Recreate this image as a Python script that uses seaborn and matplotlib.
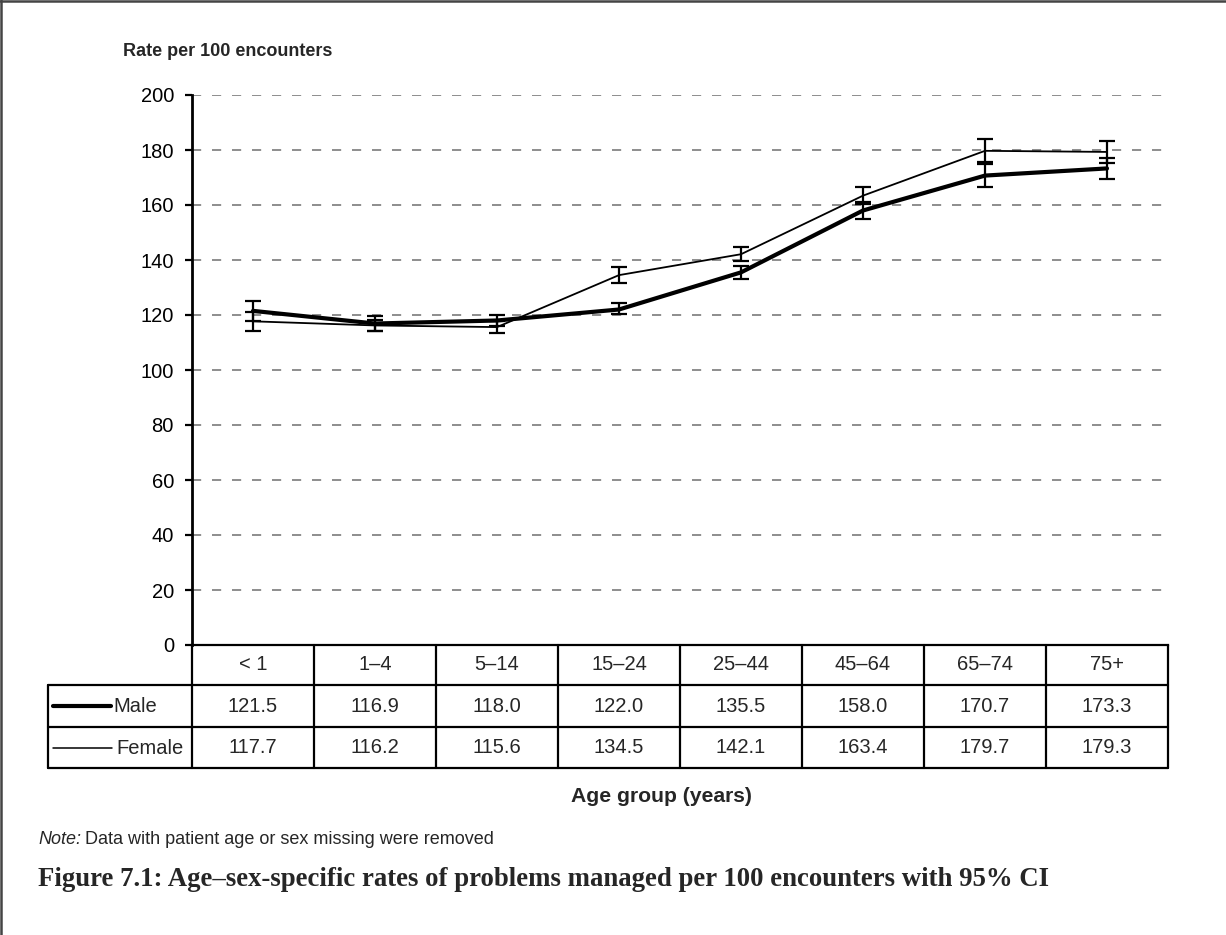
import matplotlib
matplotlib.use("Agg")
import matplotlib.pyplot as plt
import seaborn as sns
import numpy as np
import pandas as pd
from matplotlib.transforms import blended_transform_factory

# ---------------- data ----------------
age_groups = ["< 1", "1–4", "5–14", "15–24", "25–44", "45–64", "65–74", "75+"]
male = [121.5, 116.9, 118.0, 122.0, 135.5, 158.0, 170.7, 173.3]
female = [117.7, 116.2, 115.6, 134.5, 142.1, 163.4, 179.7, 179.3]
male_lo = [118.0, 114.3, 116.0, 120.2, 133.1, 155.0, 166.5, 169.4]
male_hi = [125.0, 119.5, 120.0, 124.4, 137.9, 161.0, 174.8, 177.2]
female_lo = [114.2, 114.1, 113.5, 131.8, 139.6, 160.3, 175.6, 175.3]
female_hi = [121.2, 118.3, 117.7, 137.3, 144.6, 166.5, 184.0, 183.2]
yticks = [0, 20, 40, 60, 80, 100, 120, 140, 160, 180, 200]

ylabel_text = "Rate per 100 encounters"
xlabel_text = "Age group (years)"
note_text = "Data with patient age or sex missing were removed"
caption_text = "Figure 7.1: Age–sex-specific rates of problems managed per 100 encounters with 95% CI"

# ---------------- style ----------------
sns.set_theme(style="white")
plt.rcParams['font.family'] = ['Liberation Sans', 'DejaVu Sans']

W, H = 1226, 935
fig = plt.figure(figsize=(W / 100, H / 100), dpi=100)
fig.patch.set_facecolor("white")

# overlay in pixel coordinates (for table, labels, border)
over = fig.add_axes([0, 0, 1, 1], zorder=0)
over.set_xlim(0, W)
over.set_ylim(H, 0)
over.set_axis_off()

ax = fig.add_axes([192 / W, 1 - 645 / H, (1168 - 192) / W, (645 - 95) / H], zorder=2)
ax.patch.set_alpha(0)

pos = np.arange(len(age_groups))
df = pd.DataFrame({
    "pos": np.concatenate([pos, pos]),
    "rate": male + female,
    "sex": ["Male"] * len(pos) + ["Female"] * len(pos),
})

sns.lineplot(data=df[df.sex == "Female"], x="pos", y="rate", color="black",
             linewidth=1.3, ax=ax, legend=False, zorder=3)
sns.lineplot(data=df[df.sex == "Male"], x="pos", y="rate", color="black",
             linewidth=3.0, ax=ax, legend=False, zorder=4)

m = np.array(male); f = np.array(female)
ax.errorbar(pos, m, yerr=[m - np.array(male_lo), np.array(male_hi) - m], fmt="none",
            ecolor="black", elinewidth=1.6, capsize=6, capthick=1.6, zorder=5)
ax.errorbar(pos, f, yerr=[f - np.array(female_lo), np.array(female_hi) - f], fmt="none",
            ecolor="black", elinewidth=1.6, capsize=6, capthick=1.6, zorder=5)

ax.set_xlim(-0.5, len(age_groups) - 0.5)
ax.set_ylim(0, 200)
ax.set_yticks(yticks)
ax.set_xticks([])
ax.set_xlabel("")
ax.set_ylabel("")
ax.yaxis.grid(True, color="#7a7a7a", linestyle=(0, (5.5, 6.5)), linewidth=1.2)
ax.set_axisbelow(True)
for s in ["top", "right"]:
    ax.spines[s].set_visible(False)
ax.spines["left"].set_color("black")
ax.spines["left"].set_linewidth(2)
ax.spines["bottom"].set_color("black")
ax.spines["bottom"].set_linewidth(1.6)
ax.tick_params(axis="y", left=True, direction="out", length=5, width=1.6,
               labelsize=14.5, pad=8, colors="black")

# ---------------- table below the axis ----------------
tr = blended_transform_factory(ax.transData, over.transData)
y_top, y_r1, y_r2, y_bot = 645, 685, 727, 768
x_left_px = 48
lw_t = 1.6
bounds = np.arange(len(age_groups) + 1) - 0.5
for b in bounds:
    over.plot([b, b], [y_top, y_bot], transform=tr, color="black", lw=lw_t, clip_on=False)
for yy in [y_r1, y_r2, y_bot]:
    over.plot([x_left_px, 1168], [yy, yy], color="black", lw=lw_t, clip_on=False)
over.plot([x_left_px, x_left_px], [y_r1, y_bot], color="black", lw=lw_t, clip_on=False)

fs_tab = 14.5
for i, lab in enumerate(age_groups):
    over.text(i, (y_top + y_r1) / 2, lab, transform=tr, ha="center", va="center", fontsize=fs_tab)
    over.text(i, (y_r1 + y_r2) / 2, f"{male[i]:.1f}", transform=tr, ha="center", va="center", fontsize=fs_tab)
    over.text(i, (y_r2 + y_bot) / 2, f"{female[i]:.1f}", transform=tr, ha="center", va="center", fontsize=fs_tab)

# legend keys inside the table
ym = (y_r1 + y_r2) / 2
yf = (y_r2 + y_bot) / 2
over.plot([53, 111], [ym, ym], color="black", lw=3.0)
over.plot([53, 112], [yf, yf], color="black", lw=1.1)
over.text(113, ym + 1, "Male", ha="left", va="center", fontsize=fs_tab)
over.text(116, yf + 1, "Female", ha="left", va="center", fontsize=fs_tab)

# ---------------- labels ----------------
over.text(123, 52, ylabel_text, ha="left", va="center", fontsize=13, fontweight="bold")
over.text(661, 797, xlabel_text, ha="center", va="center", fontsize=15.2, fontweight="bold")
t1 = over.text(38, 840, "Note:", ha="left", va="center", fontsize=13, style="italic")
fig.canvas.draw()
bb = t1.get_window_extent()
note_x = bb.x1 + 4
over.text(note_x, 840, note_text, ha="left", va="center", fontsize=13)
over.text(38, 880, caption_text, ha="left", va="center", fontsize=19.3,
          fontweight="bold", family=["Liberation Serif", "DejaVu Serif"])

# figure border (top and left)
over.plot([0, W], [1, 1], color="#444444", lw=1.8, clip_on=False)
over.plot([1, 1], [0, H], color="#444444", lw=1.8, clip_on=False)

fig.savefig("out.png", dpi=100, facecolor="white")
